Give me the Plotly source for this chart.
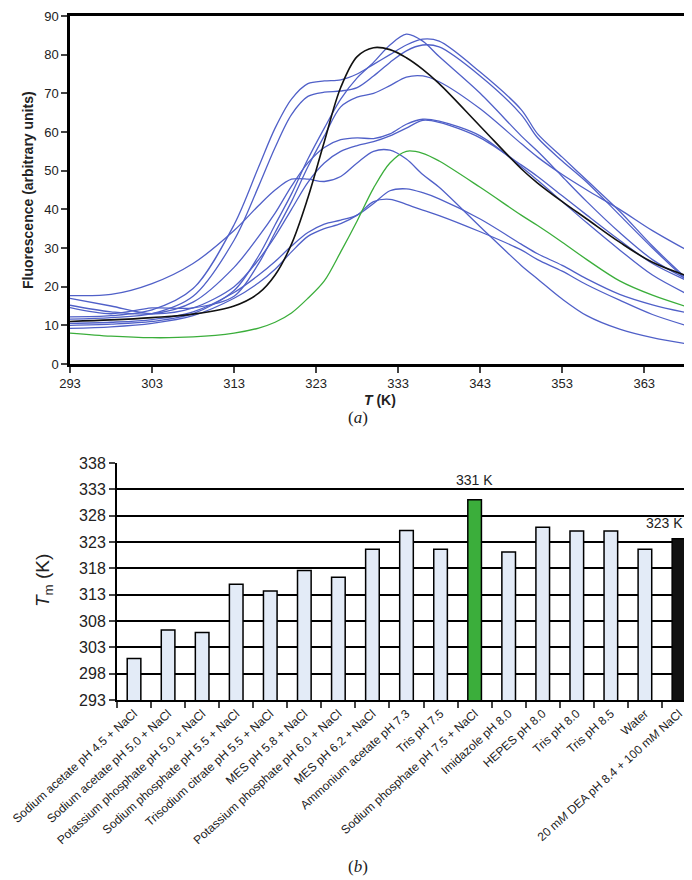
import plotly.graph_objects as go

# ---- (a) fluorescence melt curves ----
temps = [293, 298, 303, 308, 313, 316, 318, 320, 322, 324, 326, 328, 330,
         332, 334, 336, 338, 343, 348, 350, 353, 356, 360, 364, 368.5]

ref_black = [11.0, 11.4, 12.0, 12.9, 15.0, 18.3, 23.0, 31.0, 43.0, 57.5, 71.5, 79.5, 81.8,
             81.3, 79.2, 76.2, 72.5, 61.5, 50.5, 46.8, 42.0, 37.5, 31.5, 26.3, 22.6]
best_green = [8.0, 7.2, 6.8, 7.0, 8.0, 9.3, 10.8, 13.2, 17.0, 21.5, 29.0, 37.0, 45.5,
              52.0, 55.0, 54.5, 52.5, 45.7, 38.5, 35.8, 31.5, 27.0, 21.5, 17.8, 14.6]

curve_a = [17.7, 18.0, 20.8, 26.0, 34.5, 41.0, 45.0, 47.8, 47.8, 47.2, 48.5, 52.0, 55.0,
           55.3, 53.0, 49.0, 45.7, 35.5, 25.5, 22.0, 16.8, 12.5, 9.0, 6.8, 5.1]
curve_b = [10.5, 10.8, 11.5, 13.5, 18.5, 23.0, 26.5, 30.5, 34.0, 36.2, 37.2, 38.5, 41.5,
           44.8, 45.3, 44.3, 42.7, 37.5, 31.0, 28.5, 25.5, 22.0, 18.0, 15.3, 13.1]
curve_c = [9.2, 9.6, 10.5, 12.5, 17.0, 21.0, 24.5, 29.0, 33.0, 35.0, 36.3, 38.5, 42.0,
           42.6, 41.3, 39.8, 38.4, 34.2, 29.5, 27.0, 24.0, 20.5, 16.5, 12.8, 9.7]
curve_d = [15.2, 13.5, 13.0, 16.0, 25.0, 33.0, 39.0, 46.0, 52.0, 56.0, 58.0, 58.5, 58.3,
           59.5, 62.0, 63.3, 62.8, 59.0, 51.0, 47.5, 42.0, 36.5, 29.5, 23.0, 17.8]
curve_e = [17.0, 15.0, 13.0, 14.5, 20.0, 27.0, 33.0, 40.0, 47.0, 52.0, 55.0, 56.5, 57.5,
           59.0, 61.0, 63.0, 62.5, 58.5, 51.5, 48.5, 43.5, 38.5, 32.0, 26.0, 21.3]
curve_f = [10.0, 10.3, 11.0, 13.0, 19.0, 28.0, 36.0, 44.0, 53.0, 61.0, 68.5, 74.0, 78.0,
           82.5, 85.3, 83.5, 79.5, 70.0, 59.0, 55.0, 48.5, 42.0, 34.0, 27.0, 21.6]
curve_g = [14.6, 13.0, 14.5, 14.5, 17.5, 26.0, 34.0, 42.0, 51.0, 59.0, 66.5, 69.0, 70.0,
           72.0, 74.2, 74.5, 73.0, 66.0, 57.0, 53.5, 49.0, 45.0, 40.0, 34.5, 29.1]
curve_h = [12.2, 12.5, 14.0, 19.5, 36.0, 51.0, 61.0, 68.5, 72.5, 73.2, 73.5, 75.0, 77.5,
           80.0, 82.5, 84.0, 83.5, 75.5, 65.8, 59.5, 53.5, 47.5, 39.5, 30.5, 21.4]
curve_i = [11.6, 12.0, 13.0, 17.5, 32.0, 46.0, 56.0, 64.5, 69.2, 70.3, 70.6, 71.5, 74.5,
           78.0, 81.0, 82.5, 82.0, 74.5, 64.5, 58.5, 52.5, 47.0, 38.5, 30.0, 21.0]

blue_curves = [curve_a, curve_b, curve_c, curve_d, curve_e,
               curve_f, curve_g, curve_h, curve_i]

# ---- (b) melting temperatures ----
buffers = [
    "Sodium acetate pH 4.5 + NaCl",
    "Sodium acetate pH 5.0 + NaCl",
    "Potassium phosphate pH 5.0 + NaCl",
    "Sodium phosphate pH 5.5 + NaCl",
    "Trisodium citrate pH 5.5 + NaCl",
    "MES pH 5.8 + NaCl",
    "Potassium phosphate pH 6.0 + NaCl",
    "MES pH 6.2 + NaCl",
    "Ammonium acetate pH 7.3",
    "Tris pH 7.5",
    "Sodium phosphate pH 7.5 + NaCl",
    "Imidazole pH 8.0",
    "HEPES pH 8.0",
    "Tris pH 8.0",
    "Tris pH 8.5",
    "Water",
    "20 m<i>M</i> DEA pH 8.4 + 100 m<i>M</i> NaCl",
]
tm_values = [300.9, 306.3, 305.8, 315.0, 313.7, 317.6, 316.3, 321.6, 325.2,
             321.6, 331.0, 321.1, 325.8, 325.1, 325.1, 321.6, 323.6]

BLUE = "#5060c8"
GREEN = "#3bae3b"
BLACK = "#111111"

fig = go.Figure()

for c in blue_curves:
    fig.add_trace(go.Scatter(x=temps, y=c, mode="lines",
                             line=dict(color=BLUE, width=1.3, shape="spline", smoothing=0.9),
                             xaxis="x", yaxis="y", showlegend=False, hoverinfo="skip"))
fig.add_trace(go.Scatter(x=temps, y=best_green, mode="lines",
                         line=dict(color=GREEN, width=1.3, shape="spline", smoothing=0.9),
                         xaxis="x", yaxis="y", showlegend=False))
fig.add_trace(go.Scatter(x=temps, y=ref_black, mode="lines",
                         line=dict(color=BLACK, width=1.6, shape="spline", smoothing=1.0),
                         xaxis="x", yaxis="y", showlegend=False))

bar_fill = ["#e3ebf7"] * len(tm_values)
bar_fill[10] = GREEN
bar_fill[16] = BLACK

fig.add_trace(go.Bar(x=buffers, y=tm_values, marker=dict(color=bar_fill,
                     line=dict(color="black", width=1.5)),
                     width=0.4, xaxis="x2", yaxis="y2", showlegend=False))

W, H = 692, 880
sans = "Liberation Sans, Arial, sans-serif"
narrow = "Liberation Sans Narrow, Liberation Sans, Arial, sans-serif"

fig.update_layout(
    width=W, height=H,
    margin=dict(l=0, r=0, t=0, b=0),
    paper_bgcolor="white", plot_bgcolor="white",
    xaxis=dict(domain=[62 / W, 683 / W], anchor="y", range=[293, 368.7],
               tickvals=[293, 303, 313, 323, 333, 343, 353, 363], automargin=False,
               showgrid=False, zeroline=False, showline=True, linecolor="black",
               linewidth=2.5, mirror=True, ticks="outside", ticklen=6, tickwidth=2,
               tickfont=dict(family=sans, size=13, color="#222")),
    yaxis=dict(domain=[1 - 356 / H, 1 - 8 / H], anchor="x", range=[0, 90], dtick=10,
               automargin=False,
               showgrid=False, zeroline=False, showline=True, linecolor="black",
               linewidth=2.5, mirror=True, ticks="outside", ticklen=6, tickwidth=2,
               tickfont=dict(family=sans, size=13, color="#222")),
    xaxis2=dict(domain=[109 / W, 688 / W], anchor="y2", range=[-0.5, 16.5],
                type="category", tickson="boundaries", tickangle=-42, automargin=False,
                showgrid=False, zeroline=False, showline=True, linecolor="black",
                linewidth=2, ticks="outside", ticklen=6, tickwidth=2,
                tickfont=dict(family=sans, size=12, color="#222")),
    yaxis2=dict(domain=[1 - 692 / H, 1 - 455 / H], anchor="x2", range=[293, 338],
                tick0=293, dtick=5, automargin=False,
                showgrid=True, gridcolor="black", gridwidth=2, zeroline=False,
                showline=True, linecolor="black", linewidth=2,
                ticks="outside", ticklen=6, tickwidth=2,
                tickfont=dict(family=narrow, size=16, color="#222")),
)

annos = [
    dict(text="<b>Fluorescence (arbitrary units)</b>", x=20 / W, y=1 - 182 / H,
         textangle=-90, font=dict(family=sans, size=14, color="#222")),
    dict(text="<b><i>T</i> (K)</b>", x=372 / W, y=1 - 392 / H,
         font=dict(family=sans, size=14, color="#222")),
    dict(text="(<i>a</i>)", x=350 / W, y=1 - 410 / H,
         font=dict(family="Liberation Serif, serif", size=17, color="#222")),
    dict(text="<i>T</i><sub>m</sub> (K)", x=36 / W, y=1 - 573 / H, textangle=-90,
         font=dict(family=sans, size=19, color="#222")),
    dict(text="(<i>b</i>)", x=350 / W, y=1 - 858 / H,
         font=dict(family="Liberation Serif, serif", size=17, color="#222")),
]
for a in annos:
    fig.add_annotation(xref="paper", yref="paper", showarrow=False,
                       xanchor="center", yanchor="middle", **a)

fig.add_annotation(x=buffers[10], y=334.8, xref="x2", yref="y2", text="331 K",
                   showarrow=False, font=dict(family=narrow, size=14, color="#222"))
fig.add_annotation(x=buffers[16], y=326.6, xref="x2", yref="y2", text="323 K",
                   showarrow=False, xshift=-14,
                   font=dict(family=narrow, size=14, color="#222"))

fig.write_html("out.html")
